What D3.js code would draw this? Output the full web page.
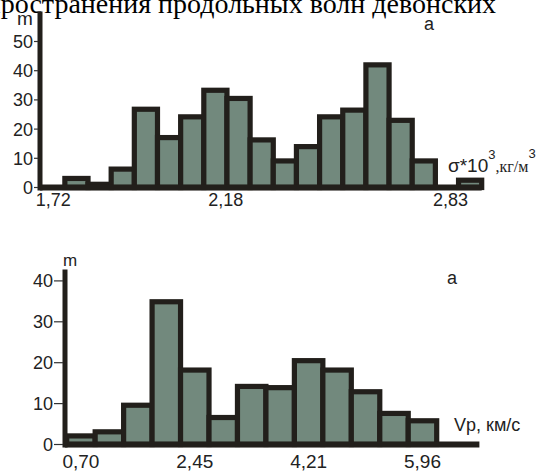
<!DOCTYPE html>
<html>
<head>
<meta charset="utf-8">
<script src="https://cdn.jsdelivr.net/npm/d3@7"></script>
<style>
html,body{margin:0;padding:0;background:#fff;}
svg{display:block;}
</style>
</head>
<body>
<svg id="c" width="544" height="471"></svg>
<script>
// ---- data ----
const titleText = "распространения продольных волн девонских";

// top histogram: density (σ*10^3, кг/м^3)
const densityCounts = [0, 3.1, 1.1, 6.3, 26.8, 17.1, 24.2, 33.3, 30.5, 16.3, 9.1, 14.0, 24.2, 26.5, 42.0, 23.0, 9.1, 0, 2.5];
const densityTickLabels = ["1,72", "2,18", "2,83"];
const densityTickBins = [0, 7.45, 17.15];
const densityYTicks = [0, 10, 20, 30, 40, 50];

// bottom histogram: Vp, км/с
const vpCounts = [2.1, 3.1, 9.6, 34.9, 18.2, 6.6, 14.2, 13.9, 20.5, 18.2, 12.9, 7.6, 5.8];
const vpTickLabels = ["0,70", "2,45", "4,21", "5,96"];
const vpTickBins = [0, 4, 8, 12];
const vpYTicks = [0, 10, 20, 30, 40];

const BLACK = "#221f1b";
const FILL = "#72897d";
const SANS = "Arial, 'Liberation Sans', sans-serif";
const SERIF = "'Times New Roman', 'Liberation Serif', serif";

const svg = d3.select("#c");

// title (cut at top-left)
svg.append("text")
  .attr("x", 496).attr("y", 13)
  .attr("text-anchor", "end")
  .attr("font-family", SERIF)
  .attr("font-size", 28)
  .attr("fill", "#000")
  .text(titleText);

function histogram(cfg) {
  const g = svg.append("g");
  const x = d3.scaleLinear().domain([0, cfg.counts.length]).range(cfg.xRange);
  const y = d3.scaleLinear().domain([0, cfg.yTicks[cfg.yTicks.length - 1]]).range(cfg.yRange);
  const y0 = y(0);

  g.selectAll("rect.bar").data(cfg.counts).join("rect")
    .attr("class", "bar")
    .attr("x", (d, i) => x(i))
    .attr("width", (d, i) => x(i + 1) - x(i))
    .attr("y", d => y(d))
    .attr("height", d => y0 - y(d))
    .attr("fill", FILL)
    .attr("stroke", BLACK)
    .attr("stroke-width", 5.2);

  g.append("line")
    .attr("x1", cfg.axisX).attr("x2", x(cfg.baselineEnd))
    .attr("y1", y0).attr("y2", y0)
    .attr("stroke", BLACK).attr("stroke-width", 6);

  g.append("line")
    .attr("x1", cfg.axisX).attr("x2", cfg.axisX)
    .attr("y1", y(cfg.axisTop)).attr("y2", y0 + 3)
    .attr("stroke", BLACK).attr("stroke-width", 5);

  const yt = g.selectAll("g.yt").data(cfg.yTicks).join("g").attr("class", "yt")
    .attr("transform", d => `translate(0,${y(d)})`);
  yt.append("line")
    .attr("x1", cfg.axisX - cfg.tickLen).attr("x2", cfg.axisX - 2)
    .attr("stroke", "#333").attr("stroke-width", 1.2);
  yt.append("text")
    .attr("x", cfg.axisX - cfg.tickLen - 1)
    .attr("dy", "0.36em")
    .attr("text-anchor", "end")
    .attr("font-family", SANS).attr("font-size", 18)
    .attr("fill", "#222")
    .text(d => d);

  g.selectAll("text.xt").data(cfg.tickLabels).join("text")
    .attr("class", "xt")
    .attr("x", (d, i) => x(cfg.tickBins[i] + 0.5))
    .attr("y", cfg.xLabelY)
    .attr("text-anchor", "middle")
    .attr("font-family", SANS).attr("font-size", cfg.xLabelSize)
    .attr("fill", "#222")
    .text(d => d);

  g.append("text")
    .attr("x", cfg.mPos[0]).attr("y", cfg.mPos[1])
    .attr("font-family", SANS).attr("font-size", cfg.mSize)
    .attr("fill", "#222").text("m");

  g.append("text")
    .attr("x", cfg.aPos[0]).attr("y", cfg.aPos[1])
    .attr("font-family", SANS).attr("font-size", 18)
    .attr("fill", "#222").text("а");
  return {x, y, g};
}

const topChart = histogram({
  counts: densityCounts, yTicks: densityYTicks,
  xRange: [41.7, 481.7], yRange: [187.5, 41.5],
  axisX: 40, axisTop: 60.3, tickLen: 6, baselineEnd: densityCounts.length,
  tickLabels: densityTickLabels, tickBins: densityTickBins,
  xLabelY: 206, xLabelSize: 18,
  mPos: [17, 25], mSize: 19, aPos: [424, 30]
});

const bottomChart = histogram({
  counts: vpCounts, yTicks: vpYTicks,
  xRange: [66.7, 436.7], yRange: [444.5, 280.9],
  axisX: 65, axisTop: 42.8, tickLen: 11, baselineEnd: 14.5,
  tickLabels: vpTickLabels, tickBins: vpTickBins,
  xLabelY: 468, xLabelSize: 19,
  mPos: [63, 266], mSize: 17, aPos: [447, 284]
});

const t1 = svg.append("text").attr("x", 448).attr("y", 172)
  .attr("font-family", SANS).attr("font-size", 19).attr("fill", "#222");
t1.append("tspan").text("σ*10");
t1.append("tspan").attr("font-size", 13).attr("dy", -13).text("3");
t1.append("tspan").attr("font-family", SERIF).attr("font-size", 16).attr("dy", 13).text(",кг/м");
t1.append("tspan").attr("font-size", 13).attr("dy", -14).text("3");

svg.append("text").attr("x", 454).attr("y", 431)
  .attr("font-family", SANS).attr("font-size", 18).attr("fill", "#222")
  .text("Vp, км/с");
</script>
</body>
</html>
